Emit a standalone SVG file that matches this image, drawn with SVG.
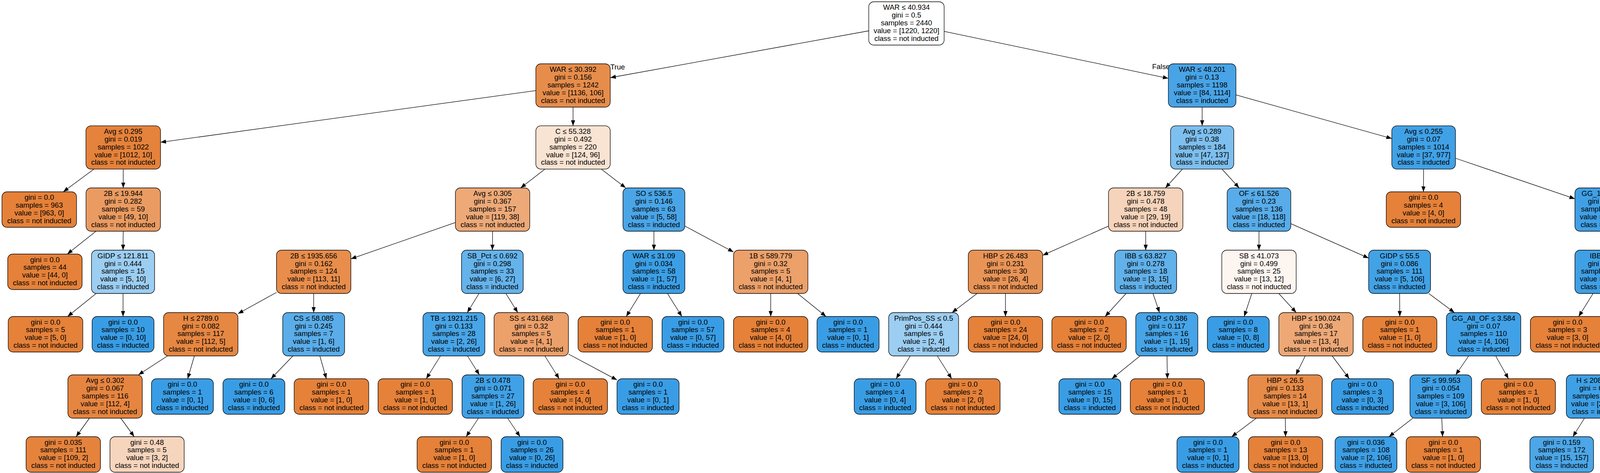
<svg xmlns="http://www.w3.org/2000/svg" width="4699" height="1212" viewBox="0 0 4699 1212">
<defs>
<style>
.node rect{stroke:#000;stroke-width:1.3}
.o rect{fill:#e58139}
.b rect{fill:#399de5}
text{font-family:"Liberation Sans",Arial,Helvetica,sans-serif;font-size:18.5px;fill:#000}
.node text{text-anchor:middle}
#edges line{stroke:#000;stroke-width:1.3;fill:none;marker-end:url(#arr)}
</style>
<marker id="arr" markerUnits="userSpaceOnUse" viewBox="0 0 14 10.6" refX="14" refY="5.3" markerWidth="14" markerHeight="10.6" orient="auto"><path d="M0,0L14,5.3L0,10.6z" fill="#000"/></marker>
</defs>
<rect width="4699" height="1212" fill="#fff"/>
<g id="edges">
<line x1="2224" y1="79" x2="1562.5" y2="199"/>
<line x1="2417" y1="80.3" x2="2991" y2="200.8"/>
<line x1="1371.8" y1="232.1" x2="411" y2="364.6"/>
<line x1="1467" y1="274.5" x2="1467" y2="322.3"/>
<line x1="240.6" y1="433.3" x2="162" y2="491.5"/>
<line x1="315.5" y1="433.3" x2="315.5" y2="481.5"/>
<line x1="245.7" y1="592.5" x2="172.2" y2="651"/>
<line x1="315.5" y1="592.5" x2="315" y2="641"/>
<line x1="246.1" y1="752" x2="173" y2="811"/>
<line x1="315" y1="752" x2="315" y2="811"/>
<line x1="1395.2" y1="433.3" x2="1332.8" y2="481.5"/>
<line x1="1539.2" y1="433.3" x2="1601.8" y2="481.5"/>
<line x1="1165.8" y1="570.2" x2="898.3" y2="663.3"/>
<line x1="1261" y1="592.5" x2="1260.5" y2="641"/>
<line x1="707.8" y1="749.2" x2="609.3" y2="803.8"/>
<line x1="803" y1="752" x2="803" y2="801"/>
<line x1="428.8" y1="912" x2="354.3" y2="960.5"/>
<line x1="497.6" y1="912" x2="480.4" y2="970.5"/>
<line x1="229" y1="1071.5" x2="194.8" y2="1119"/>
<line x1="309.2" y1="1071.5" x2="343.6" y2="1119"/>
<line x1="749.8" y1="912" x2="693.7" y2="970.5"/>
<line x1="818.8" y1="912" x2="835.5" y2="970.5"/>
<line x1="1226.3" y1="752" x2="1196.2" y2="801"/>
<line x1="1295" y1="752" x2="1325.5" y2="801"/>
<line x1="1127.6" y1="912" x2="1091.2" y2="970.5"/>
<line x1="1196.8" y1="912" x2="1227.2" y2="960.5"/>
<line x1="1225" y1="1071.5" x2="1193.3" y2="1119"/>
<line x1="1299.4" y1="1071.5" x2="1331.4" y2="1119"/>
<line x1="1394.8" y1="912" x2="1431.5" y2="970.5"/>
<line x1="1455.3" y1="907.3" x2="1579.5" y2="973.6"/>
<line x1="1674" y1="592.5" x2="1674" y2="641"/>
<line x1="1753.3" y1="579.3" x2="1877.8" y2="645.7"/>
<line x1="1639.7" y1="752" x2="1603.2" y2="811"/>
<line x1="1708.7" y1="752" x2="1745.6" y2="811"/>
<line x1="1973" y1="752" x2="1973" y2="811"/>
<line x1="2041.7" y1="752" x2="2114.7" y2="811"/>
<line x1="3077.5" y1="274.5" x2="3077.5" y2="322.3"/>
<line x1="3164" y1="243.2" x2="3563" y2="355"/>
<line x1="3027.1" y1="433.3" x2="2983.4" y2="481.5"/>
<line x1="3128.2" y1="433.3" x2="3172.3" y2="481.5"/>
<line x1="2837.8" y1="579.3" x2="2669.3" y2="654.2"/>
<line x1="2933" y1="592.5" x2="2933" y2="641"/>
<line x1="2501.3" y1="752" x2="2437.2" y2="801"/>
<line x1="2574" y1="752" x2="2574" y2="811"/>
<line x1="2330.2" y1="912" x2="2294.1" y2="970.5"/>
<line x1="2399.5" y1="912" x2="2436.3" y2="970.5"/>
<line x1="2882.7" y1="752" x2="2829.2" y2="811"/>
<line x1="2951.7" y1="752" x2="2968.3" y2="801"/>
<line x1="2918.5" y1="912" x2="2846.2" y2="970.5"/>
<line x1="2987.5" y1="912" x2="2988.5" y2="970.5"/>
<line x1="3223" y1="592.5" x2="3223" y2="641"/>
<line x1="3304.5" y1="573.1" x2="3503.8" y2="661.4"/>
<line x1="3204.6" y1="752" x2="3185.1" y2="811"/>
<line x1="3273.7" y1="752" x2="3318.4" y2="801"/>
<line x1="3341.5" y1="912" x2="3317.5" y2="960.5"/>
<line x1="3410.4" y1="912" x2="3454.1" y2="970.5"/>
<line x1="3216.2" y1="1071.5" x2="3153" y2="1119"/>
<line x1="3290.4" y1="1071.5" x2="3291" y2="1119"/>
<line x1="3583" y1="752" x2="3583.5" y2="811"/>
<line x1="3657.6" y1="752" x2="3723.4" y2="801"/>
<line x1="3759.9" y1="912" x2="3726.6" y2="960.5"/>
<line x1="3829" y1="912" x2="3861.6" y2="970.5"/>
<line x1="3616.9" y1="1071.5" x2="3555.7" y2="1119"/>
<line x1="3690.9" y1="1071.5" x2="3693" y2="1119"/>
<line x1="3644.5" y1="433.3" x2="3644" y2="491.5"/>
<line x1="3726" y1="405.5" x2="4031.8" y2="509.4"/>
<line x1="4113" y1="592.5" x2="4113" y2="641"/>
<line x1="4194.3" y1="579.9" x2="4319.8" y2="646.2"/>
<line x1="4078.3" y1="752" x2="4041.4" y2="811"/>
<line x1="4148" y1="752" x2="4179" y2="801"/>
<line x1="4171.2" y1="912" x2="4133.8" y2="960.5"/>
<line x1="4241.5" y1="912" x2="4270.5" y2="970.5"/>
<line x1="4056.3" y1="1071.5" x2="4026.5" y2="1119"/>
<line x1="4126.1" y1="1071.5" x2="4156.2" y2="1119"/>
<line x1="4415" y1="752" x2="4415" y2="811"/>
<line x1="4484" y1="752" x2="4557.4" y2="811"/>
<text x="1562.5" y="177.5">True</text>
<text x="2949.5" y="176.5">False</text>
</g>
<g id="n0" class="node"><rect x="2224" y="4.5" width="193" height="111" rx="13" fill="#ffffff"/><text x="2320.5" y="25.2"><tspan>WAR ≤ 40.934</tspan><tspan x="2320.5" dy="19.85">gini = 0.5</tspan><tspan x="2320.5" dy="19.85">samples = 2440</tspan><tspan x="2320.5" dy="19.85">value = [1220, 1220]</tspan><tspan x="2320.5" dy="19.85">class = not inducted</tspan></text></g>
<g id="n1" class="node"><rect x="1371.75" y="163.5" width="190.5" height="111" rx="13" fill="#e78d4b"/><text x="1467" y="184.2"><tspan>WAR ≤ 30.392</tspan><tspan x="1467" dy="19.85">gini = 0.156</tspan><tspan x="1467" dy="19.85">samples = 1242</tspan><tspan x="1467" dy="19.85">value = [1136, 106]</tspan><tspan x="1467" dy="19.85">class = not inducted</tspan></text></g>
<g id="n2" class="node"><rect x="220" y="322.3" width="191" height="111" rx="13" fill="#e5823b"/><text x="315.5" y="343"><tspan>Avg ≤ 0.295</tspan><tspan x="315.5" dy="19.85">gini = 0.019</tspan><tspan x="315.5" dy="19.85">samples = 1022</tspan><tspan x="315.5" dy="19.85">value = [1012, 10]</tspan><tspan x="315.5" dy="19.85">class = not inducted</tspan></text></g>
<g id="n3" class="node o"><rect x="5" y="491.5" width="191" height="91" rx="13"/><text x="100.5" y="512.1"><tspan>gini = 0.0</tspan><tspan x="100.5" dy="19.85">samples = 963</tspan><tspan x="100.5" dy="19.85">value = [963, 0]</tspan><tspan x="100.5" dy="19.85">class = not inducted</tspan></text></g>
<g id="n4" class="node"><rect x="220.25" y="481.5" width="190.5" height="111" rx="13" fill="#ea9b61"/><text x="315.5" y="502.2"><tspan>2B ≤ 19.944</tspan><tspan x="315.5" dy="19.85">gini = 0.282</tspan><tspan x="315.5" dy="19.85">samples = 59</tspan><tspan x="315.5" dy="19.85">value = [49, 10]</tspan><tspan x="315.5" dy="19.85">class = not inducted</tspan></text></g>
<g id="n5" class="node o"><rect x="19.75" y="651" width="190.5" height="91" rx="13"/><text x="115" y="671.6"><tspan>gini = 0.0</tspan><tspan x="115" dy="19.85">samples = 44</tspan><tspan x="115" dy="19.85">value = [44, 0]</tspan><tspan x="115" dy="19.85">class = not inducted</tspan></text></g>
<g id="n6" class="node"><rect x="234.25" y="641" width="161.5" height="111" rx="13" fill="#9ccef2"/><text x="315" y="661.7"><tspan>GIDP ≤ 121.811</tspan><tspan x="315" dy="19.85">gini = 0.444</tspan><tspan x="315" dy="19.85">samples = 15</tspan><tspan x="315" dy="19.85">value = [5, 10]</tspan><tspan x="315" dy="19.85">class = inducted</tspan></text></g>
<g id="n7" class="node o"><rect x="21" y="811" width="191" height="91" rx="13"/><text x="116.5" y="831.6"><tspan>gini = 0.0</tspan><tspan x="116.5" dy="19.85">samples = 5</tspan><tspan x="116.5" dy="19.85">value = [5, 0]</tspan><tspan x="116.5" dy="19.85">class = not inducted</tspan></text></g>
<g id="n8" class="node b"><rect x="235.75" y="811" width="158.5" height="91" rx="13"/><text x="315" y="831.6"><tspan>gini = 0.0</tspan><tspan x="315" dy="19.85">samples = 10</tspan><tspan x="315" dy="19.85">value = [0, 10]</tspan><tspan x="315" dy="19.85">class = inducted</tspan></text></g>
<g id="n9" class="node"><rect x="1371.75" y="322.3" width="190.5" height="111" rx="13" fill="#f9e3d2"/><text x="1467" y="343"><tspan>C ≤ 55.328</tspan><tspan x="1467" dy="19.85">gini = 0.492</tspan><tspan x="1467" dy="19.85">samples = 220</tspan><tspan x="1467" dy="19.85">value = [124, 96]</tspan><tspan x="1467" dy="19.85">class = not inducted</tspan></text></g>
<g id="n10" class="node"><rect x="1165.75" y="481.5" width="190.5" height="111" rx="13" fill="#eda978"/><text x="1261" y="502.2"><tspan>Avg ≤ 0.305</tspan><tspan x="1261" dy="19.85">gini = 0.367</tspan><tspan x="1261" dy="19.85">samples = 157</tspan><tspan x="1261" dy="19.85">value = [119, 38]</tspan><tspan x="1261" dy="19.85">class = not inducted</tspan></text></g>
<g id="n11" class="node"><rect x="707.75" y="641" width="190.5" height="111" rx="13" fill="#e88d4c"/><text x="803" y="661.7"><tspan>2B ≤ 1935.656</tspan><tspan x="803" dy="19.85">gini = 0.162</tspan><tspan x="803" dy="19.85">samples = 124</tspan><tspan x="803" dy="19.85">value = [113, 11]</tspan><tspan x="803" dy="19.85">class = not inducted</tspan></text></g>
<g id="n12" class="node"><rect x="418.75" y="801" width="190.5" height="111" rx="13" fill="#e68742"/><text x="514" y="821.7"><tspan>H ≤ 2789.0</tspan><tspan x="514" dy="19.85">gini = 0.082</tspan><tspan x="514" dy="19.85">samples = 117</tspan><tspan x="514" dy="19.85">value = [112, 5]</tspan><tspan x="514" dy="19.85">class = not inducted</tspan></text></g>
<g id="n13" class="node"><rect x="173.75" y="960.5" width="190.5" height="111" rx="13" fill="#e68540"/><text x="269" y="981.2"><tspan>Avg ≤ 0.302</tspan><tspan x="269" dy="19.85">gini = 0.067</tspan><tspan x="269" dy="19.85">samples = 116</tspan><tspan x="269" dy="19.85">value = [112, 4]</tspan><tspan x="269" dy="19.85">class = not inducted</tspan></text></g>
<g id="n14" class="node"><rect x="66.75" y="1119" width="190.5" height="91" rx="13" fill="#e5833d"/><text x="162" y="1139.6"><tspan>gini = 0.035</tspan><tspan x="162" dy="19.85">samples = 111</tspan><tspan x="162" dy="19.85">value = [109, 2]</tspan><tspan x="162" dy="19.85">class = not inducted</tspan></text></g>
<g id="n15" class="node"><rect x="281.5" y="1119" width="190" height="91" rx="13" fill="#f6d5bd"/><text x="376.5" y="1139.6"><tspan>gini = 0.48</tspan><tspan x="376.5" dy="19.85">samples = 5</tspan><tspan x="376.5" dy="19.85">value = [3, 2]</tspan><tspan x="376.5" dy="19.85">class = not inducted</tspan></text></g>
<g id="n16" class="node b"><rect x="387.75" y="970.5" width="158.5" height="91" rx="13"/><text x="467" y="991.1"><tspan>gini = 0.0</tspan><tspan x="467" dy="19.85">samples = 1</tspan><tspan x="467" dy="19.85">value = [0, 1]</tspan><tspan x="467" dy="19.85">class = inducted</tspan></text></g>
<g id="n17" class="node"><rect x="723.75" y="801" width="158.5" height="111" rx="13" fill="#5aade9"/><text x="803" y="821.7"><tspan>CS ≤ 58.085</tspan><tspan x="803" dy="19.85">gini = 0.245</tspan><tspan x="803" dy="19.85">samples = 7</tspan><tspan x="803" dy="19.85">value = [1, 6]</tspan><tspan x="803" dy="19.85">class = inducted</tspan></text></g>
<g id="n18" class="node b"><rect x="570.75" y="970.5" width="158.5" height="91" rx="13"/><text x="650" y="991.1"><tspan>gini = 0.0</tspan><tspan x="650" dy="19.85">samples = 6</tspan><tspan x="650" dy="19.85">value = [0, 6]</tspan><tspan x="650" dy="19.85">class = inducted</tspan></text></g>
<g id="n19" class="node o"><rect x="753" y="970.5" width="191" height="91" rx="13"/><text x="848.5" y="991.1"><tspan>gini = 0.0</tspan><tspan x="848.5" dy="19.85">samples = 1</tspan><tspan x="848.5" dy="19.85">value = [1, 0]</tspan><tspan x="848.5" dy="19.85">class = not inducted</tspan></text></g>
<g id="n20" class="node"><rect x="1181.5" y="641" width="158" height="111" rx="13" fill="#65b3eb"/><text x="1260.5" y="661.7"><tspan>SB_Pct ≤ 0.692</tspan><tspan x="1260.5" dy="19.85">gini = 0.298</tspan><tspan x="1260.5" dy="19.85">samples = 33</tspan><tspan x="1260.5" dy="19.85">value = [6, 27]</tspan><tspan x="1260.5" dy="19.85">class = inducted</tspan></text></g>
<g id="n21" class="node"><rect x="1082.75" y="801" width="158.5" height="111" rx="13" fill="#48a5e7"/><text x="1162" y="821.7"><tspan>TB ≤ 1921.215</tspan><tspan x="1162" dy="19.85">gini = 0.133</tspan><tspan x="1162" dy="19.85">samples = 28</tspan><tspan x="1162" dy="19.85">value = [2, 26]</tspan><tspan x="1162" dy="19.85">class = inducted</tspan></text></g>
<g id="n22" class="node o"><rect x="967.75" y="970.5" width="190.5" height="91" rx="13"/><text x="1063" y="991.1"><tspan>gini = 0.0</tspan><tspan x="1063" dy="19.85">samples = 1</tspan><tspan x="1063" dy="19.85">value = [1, 0]</tspan><tspan x="1063" dy="19.85">class = not inducted</tspan></text></g>
<g id="n23" class="node"><rect x="1182.75" y="960.5" width="158.5" height="111" rx="13" fill="#41a1e6"/><text x="1262" y="981.2"><tspan>2B ≤ 0.478</tspan><tspan x="1262" dy="19.85">gini = 0.071</tspan><tspan x="1262" dy="19.85">samples = 27</tspan><tspan x="1262" dy="19.85">value = [1, 26]</tspan><tspan x="1262" dy="19.85">class = inducted</tspan></text></g>
<g id="n24" class="node o"><rect x="1067.75" y="1119" width="190.5" height="91" rx="13"/><text x="1163" y="1139.6"><tspan>gini = 0.0</tspan><tspan x="1163" dy="19.85">samples = 1</tspan><tspan x="1163" dy="19.85">value = [1, 0]</tspan><tspan x="1163" dy="19.85">class = not inducted</tspan></text></g>
<g id="n25" class="node b"><rect x="1282.75" y="1119" width="158.5" height="91" rx="13"/><text x="1362" y="1139.6"><tspan>gini = 0.0</tspan><tspan x="1362" dy="19.85">samples = 26</tspan><tspan x="1362" dy="19.85">value = [0, 26]</tspan><tspan x="1362" dy="19.85">class = inducted</tspan></text></g>
<g id="n26" class="node"><rect x="1264.75" y="801" width="190.5" height="111" rx="13" fill="#eca06a"/><text x="1360" y="821.7"><tspan>SS ≤ 431.668</tspan><tspan x="1360" dy="19.85">gini = 0.32</tspan><tspan x="1360" dy="19.85">samples = 5</tspan><tspan x="1360" dy="19.85">value = [4, 1]</tspan><tspan x="1360" dy="19.85">class = not inducted</tspan></text></g>
<g id="n27" class="node o"><rect x="1364.75" y="970.5" width="190.5" height="91" rx="13"/><text x="1460" y="991.1"><tspan>gini = 0.0</tspan><tspan x="1460" dy="19.85">samples = 4</tspan><tspan x="1460" dy="19.85">value = [4, 0]</tspan><tspan x="1460" dy="19.85">class = not inducted</tspan></text></g>
<g id="n28" class="node b"><rect x="1579.5" y="970.5" width="159" height="91" rx="13"/><text x="1659" y="991.1"><tspan>gini = 0.0</tspan><tspan x="1659" dy="19.85">samples = 1</tspan><tspan x="1659" dy="19.85">value = [0, 1]</tspan><tspan x="1659" dy="19.85">class = inducted</tspan></text></g>
<g id="n29" class="node"><rect x="1594.75" y="481.5" width="158.5" height="111" rx="13" fill="#4aa5e7"/><text x="1674" y="502.2"><tspan>SO ≤ 536.5</tspan><tspan x="1674" dy="19.85">gini = 0.146</tspan><tspan x="1674" dy="19.85">samples = 63</tspan><tspan x="1674" dy="19.85">value = [5, 58]</tspan><tspan x="1674" dy="19.85">class = inducted</tspan></text></g>
<g id="n30" class="node"><rect x="1594.75" y="641" width="158.5" height="111" rx="13" fill="#3c9fe5"/><text x="1674" y="661.7"><tspan>WAR ≤ 31.09</tspan><tspan x="1674" dy="19.85">gini = 0.034</tspan><tspan x="1674" dy="19.85">samples = 58</tspan><tspan x="1674" dy="19.85">value = [1, 57]</tspan><tspan x="1674" dy="19.85">class = inducted</tspan></text></g>
<g id="n31" class="node o"><rect x="1479.75" y="811" width="190.5" height="91" rx="13"/><text x="1575" y="831.6"><tspan>gini = 0.0</tspan><tspan x="1575" dy="19.85">samples = 1</tspan><tspan x="1575" dy="19.85">value = [1, 0]</tspan><tspan x="1575" dy="19.85">class = not inducted</tspan></text></g>
<g id="n32" class="node b"><rect x="1694.75" y="811" width="158.5" height="91" rx="13"/><text x="1774" y="831.6"><tspan>gini = 0.0</tspan><tspan x="1774" dy="19.85">samples = 57</tspan><tspan x="1774" dy="19.85">value = [0, 57]</tspan><tspan x="1774" dy="19.85">class = inducted</tspan></text></g>
<g id="n33" class="node"><rect x="1877.75" y="641" width="190.5" height="111" rx="13" fill="#eca06a"/><text x="1973" y="661.7"><tspan>1B ≤ 589.779</tspan><tspan x="1973" dy="19.85">gini = 0.32</tspan><tspan x="1973" dy="19.85">samples = 5</tspan><tspan x="1973" dy="19.85">value = [4, 1]</tspan><tspan x="1973" dy="19.85">class = not inducted</tspan></text></g>
<g id="n34" class="node o"><rect x="1877.75" y="811" width="190.5" height="91" rx="13"/><text x="1973" y="831.6"><tspan>gini = 0.0</tspan><tspan x="1973" dy="19.85">samples = 4</tspan><tspan x="1973" dy="19.85">value = [4, 0]</tspan><tspan x="1973" dy="19.85">class = not inducted</tspan></text></g>
<g id="n35" class="node b"><rect x="2091.5" y="811" width="159" height="91" rx="13"/><text x="2171" y="831.6"><tspan>gini = 0.0</tspan><tspan x="2171" dy="19.85">samples = 1</tspan><tspan x="2171" dy="19.85">value = [0, 1]</tspan><tspan x="2171" dy="19.85">class = inducted</tspan></text></g>
<g id="n36" class="node"><rect x="2991" y="163.5" width="173" height="111" rx="13" fill="#48a4e7"/><text x="3077.5" y="184.2"><tspan>WAR ≤ 48.201</tspan><tspan x="3077.5" dy="19.85">gini = 0.13</tspan><tspan x="3077.5" dy="19.85">samples = 1198</tspan><tspan x="3077.5" dy="19.85">value = [84, 1114]</tspan><tspan x="3077.5" dy="19.85">class = inducted</tspan></text></g>
<g id="n37" class="node"><rect x="2996.5" y="322.3" width="162" height="111" rx="13" fill="#7dbfee"/><text x="3077.5" y="343"><tspan>Avg ≤ 0.289</tspan><tspan x="3077.5" dy="19.85">gini = 0.38</tspan><tspan x="3077.5" dy="19.85">samples = 184</tspan><tspan x="3077.5" dy="19.85">value = [47, 137]</tspan><tspan x="3077.5" dy="19.85">class = inducted</tspan></text></g>
<g id="n38" class="node"><rect x="2837.75" y="481.5" width="190.5" height="111" rx="13" fill="#f6d4bb"/><text x="2933" y="502.2"><tspan>2B ≤ 18.759</tspan><tspan x="2933" dy="19.85">gini = 0.478</tspan><tspan x="2933" dy="19.85">samples = 48</tspan><tspan x="2933" dy="19.85">value = [29, 19]</tspan><tspan x="2933" dy="19.85">class = not inducted</tspan></text></g>
<g id="n39" class="node"><rect x="2478.75" y="641" width="190.5" height="111" rx="13" fill="#e99457"/><text x="2574" y="661.7"><tspan>HBP ≤ 26.483</tspan><tspan x="2574" dy="19.85">gini = 0.231</tspan><tspan x="2574" dy="19.85">samples = 30</tspan><tspan x="2574" dy="19.85">value = [26, 4]</tspan><tspan x="2574" dy="19.85">class = not inducted</tspan></text></g>
<g id="n40" class="node"><rect x="2275" y="801" width="179" height="111" rx="13" fill="#9ccef2"/><text x="2364.5" y="821.7"><tspan>PrimPos_SS ≤ 0.5</tspan><tspan x="2364.5" dy="19.85">gini = 0.444</tspan><tspan x="2364.5" dy="19.85">samples = 6</tspan><tspan x="2364.5" dy="19.85">value = [2, 4]</tspan><tspan x="2364.5" dy="19.85">class = inducted</tspan></text></g>
<g id="n41" class="node b"><rect x="2186.75" y="970.5" width="158.5" height="91" rx="13"/><text x="2266" y="991.1"><tspan>gini = 0.0</tspan><tspan x="2266" dy="19.85">samples = 4</tspan><tspan x="2266" dy="19.85">value = [0, 4]</tspan><tspan x="2266" dy="19.85">class = inducted</tspan></text></g>
<g id="n42" class="node o"><rect x="2369.75" y="970.5" width="190.5" height="91" rx="13"/><text x="2465" y="991.1"><tspan>gini = 0.0</tspan><tspan x="2465" dy="19.85">samples = 2</tspan><tspan x="2465" dy="19.85">value = [2, 0]</tspan><tspan x="2465" dy="19.85">class = not inducted</tspan></text></g>
<g id="n43" class="node o"><rect x="2478.75" y="811" width="190.5" height="91" rx="13"/><text x="2574" y="831.6"><tspan>gini = 0.0</tspan><tspan x="2574" dy="19.85">samples = 24</tspan><tspan x="2574" dy="19.85">value = [24, 0]</tspan><tspan x="2574" dy="19.85">class = not inducted</tspan></text></g>
<g id="n44" class="node"><rect x="2853.75" y="641" width="158.5" height="111" rx="13" fill="#61b1ea"/><text x="2933" y="661.7"><tspan>IBB ≤ 63.827</tspan><tspan x="2933" dy="19.85">gini = 0.278</tspan><tspan x="2933" dy="19.85">samples = 18</tspan><tspan x="2933" dy="19.85">value = [3, 15]</tspan><tspan x="2933" dy="19.85">class = inducted</tspan></text></g>
<g id="n45" class="node o"><rect x="2692.75" y="811" width="190.5" height="91" rx="13"/><text x="2788" y="831.6"><tspan>gini = 0.0</tspan><tspan x="2788" dy="19.85">samples = 2</tspan><tspan x="2788" dy="19.85">value = [2, 0]</tspan><tspan x="2788" dy="19.85">class = not inducted</tspan></text></g>
<g id="n46" class="node"><rect x="2907.5" y="801" width="159" height="111" rx="13" fill="#46a4e7"/><text x="2987" y="821.7"><tspan>OBP ≤ 0.386</tspan><tspan x="2987" dy="19.85">gini = 0.117</tspan><tspan x="2987" dy="19.85">samples = 16</tspan><tspan x="2987" dy="19.85">value = [1, 15]</tspan><tspan x="2987" dy="19.85">class = inducted</tspan></text></g>
<g id="n47" class="node b"><rect x="2710.75" y="970.5" width="158.5" height="91" rx="13"/><text x="2790" y="991.1"><tspan>gini = 0.0</tspan><tspan x="2790" dy="19.85">samples = 15</tspan><tspan x="2790" dy="19.85">value = [0, 15]</tspan><tspan x="2790" dy="19.85">class = inducted</tspan></text></g>
<g id="n48" class="node o"><rect x="2893.5" y="970.5" width="190" height="91" rx="13"/><text x="2988.5" y="991.1"><tspan>gini = 0.0</tspan><tspan x="2988.5" dy="19.85">samples = 1</tspan><tspan x="2988.5" dy="19.85">value = [1, 0]</tspan><tspan x="2988.5" dy="19.85">class = not inducted</tspan></text></g>
<g id="n49" class="node"><rect x="3141.5" y="481.5" width="163" height="111" rx="13" fill="#57ace9"/><text x="3223" y="502.2"><tspan>OF ≤ 61.526</tspan><tspan x="3223" dy="19.85">gini = 0.23</tspan><tspan x="3223" dy="19.85">samples = 136</tspan><tspan x="3223" dy="19.85">value = [18, 118]</tspan><tspan x="3223" dy="19.85">class = inducted</tspan></text></g>
<g id="n50" class="node"><rect x="3127.75" y="641" width="190.5" height="111" rx="13" fill="#fdf5f0"/><text x="3223" y="661.7"><tspan>SB ≤ 41.073</tspan><tspan x="3223" dy="19.85">gini = 0.499</tspan><tspan x="3223" dy="19.85">samples = 25</tspan><tspan x="3223" dy="19.85">value = [13, 12]</tspan><tspan x="3223" dy="19.85">class = not inducted</tspan></text></g>
<g id="n51" class="node b"><rect x="3090.75" y="811" width="158.5" height="91" rx="13"/><text x="3170" y="831.6"><tspan>gini = 0.0</tspan><tspan x="3170" dy="19.85">samples = 8</tspan><tspan x="3170" dy="19.85">value = [0, 8]</tspan><tspan x="3170" dy="19.85">class = inducted</tspan></text></g>
<g id="n52" class="node"><rect x="3273.75" y="801" width="190.5" height="111" rx="13" fill="#eda876"/><text x="3369" y="821.7"><tspan>HBP ≤ 190.024</tspan><tspan x="3369" dy="19.85">gini = 0.36</tspan><tspan x="3369" dy="19.85">samples = 17</tspan><tspan x="3369" dy="19.85">value = [13, 4]</tspan><tspan x="3369" dy="19.85">class = not inducted</tspan></text></g>
<g id="n53" class="node"><rect x="3194.75" y="960.5" width="190.5" height="111" rx="13" fill="#e78b48"/><text x="3290" y="981.2"><tspan>HBP ≤ 26.5</tspan><tspan x="3290" dy="19.85">gini = 0.133</tspan><tspan x="3290" dy="19.85">samples = 14</tspan><tspan x="3290" dy="19.85">value = [13, 1]</tspan><tspan x="3290" dy="19.85">class = not inducted</tspan></text></g>
<g id="n54" class="node b"><rect x="3013" y="1119" width="159" height="91" rx="13"/><text x="3092.5" y="1139.6"><tspan>gini = 0.0</tspan><tspan x="3092.5" dy="19.85">samples = 1</tspan><tspan x="3092.5" dy="19.85">value = [0, 1]</tspan><tspan x="3092.5" dy="19.85">class = inducted</tspan></text></g>
<g id="n55" class="node o"><rect x="3196" y="1119" width="190" height="91" rx="13"/><text x="3291" y="1139.6"><tspan>gini = 0.0</tspan><tspan x="3291" dy="19.85">samples = 13</tspan><tspan x="3291" dy="19.85">value = [13, 0]</tspan><tspan x="3291" dy="19.85">class = not inducted</tspan></text></g>
<g id="n56" class="node b"><rect x="3408.75" y="970.5" width="158.5" height="91" rx="13"/><text x="3488" y="991.1"><tspan>gini = 0.0</tspan><tspan x="3488" dy="19.85">samples = 3</tspan><tspan x="3488" dy="19.85">value = [0, 3]</tspan><tspan x="3488" dy="19.85">class = inducted</tspan></text></g>
<g id="n57" class="node"><rect x="3503.75" y="641" width="158.5" height="111" rx="13" fill="#42a2e6"/><text x="3583" y="661.7"><tspan>GIDP ≤ 55.5</tspan><tspan x="3583" dy="19.85">gini = 0.086</tspan><tspan x="3583" dy="19.85">samples = 111</tspan><tspan x="3583" dy="19.85">value = [5, 106]</tspan><tspan x="3583" dy="19.85">class = inducted</tspan></text></g>
<g id="n58" class="node o"><rect x="3488.5" y="811" width="190" height="91" rx="13"/><text x="3583.5" y="831.6"><tspan>gini = 0.0</tspan><tspan x="3583.5" dy="19.85">samples = 1</tspan><tspan x="3583.5" dy="19.85">value = [1, 0]</tspan><tspan x="3583.5" dy="19.85">class = not inducted</tspan></text></g>
<g id="n59" class="node"><rect x="3702.75" y="801" width="190.5" height="111" rx="13" fill="#40a1e6"/><text x="3798" y="821.7"><tspan>GG_All_OF ≤ 3.584</tspan><tspan x="3798" dy="19.85">gini = 0.07</tspan><tspan x="3798" dy="19.85">samples = 110</tspan><tspan x="3798" dy="19.85">value = [4, 106]</tspan><tspan x="3798" dy="19.85">class = inducted</tspan></text></g>
<g id="n60" class="node"><rect x="3609.5" y="960.5" width="158" height="111" rx="13" fill="#3fa0e6"/><text x="3688.5" y="981.2"><tspan>SF ≤ 99.953</tspan><tspan x="3688.5" dy="19.85">gini = 0.054</tspan><tspan x="3688.5" dy="19.85">samples = 109</tspan><tspan x="3688.5" dy="19.85">value = [3, 106]</tspan><tspan x="3688.5" dy="19.85">class = inducted</tspan></text></g>
<g id="n61" class="node"><rect x="3417.75" y="1119" width="158.5" height="91" rx="13" fill="#3d9fe5"/><text x="3497" y="1139.6"><tspan>gini = 0.036</tspan><tspan x="3497" dy="19.85">samples = 108</tspan><tspan x="3497" dy="19.85">value = [2, 106]</tspan><tspan x="3497" dy="19.85">class = inducted</tspan></text></g>
<g id="n62" class="node o"><rect x="3599.75" y="1119" width="190.5" height="91" rx="13"/><text x="3695" y="1139.6"><tspan>gini = 0.0</tspan><tspan x="3695" dy="19.85">samples = 1</tspan><tspan x="3695" dy="19.85">value = [1, 0]</tspan><tspan x="3695" dy="19.85">class = not inducted</tspan></text></g>
<g id="n63" class="node o"><rect x="3792" y="970.5" width="190" height="91" rx="13"/><text x="3887" y="991.1"><tspan>gini = 0.0</tspan><tspan x="3887" dy="19.85">samples = 1</tspan><tspan x="3887" dy="19.85">value = [1, 0]</tspan><tspan x="3887" dy="19.85">class = not inducted</tspan></text></g>
<g id="n64" class="node"><rect x="3563" y="322.3" width="163" height="111" rx="13" fill="#40a1e6"/><text x="3644.5" y="343"><tspan>Avg ≤ 0.255</tspan><tspan x="3644.5" dy="19.85">gini = 0.07</tspan><tspan x="3644.5" dy="19.85">samples = 1014</tspan><tspan x="3644.5" dy="19.85">value = [37, 977]</tspan><tspan x="3644.5" dy="19.85">class = inducted</tspan></text></g>
<g id="n65" class="node o"><rect x="3548.75" y="491.5" width="190.5" height="91" rx="13"/><text x="3644" y="512.1"><tspan>gini = 0.0</tspan><tspan x="3644" dy="19.85">samples = 4</tspan><tspan x="3644" dy="19.85">value = [4, 0]</tspan><tspan x="3644" dy="19.85">class = not inducted</tspan></text></g>
<g id="n66" class="node"><rect x="4031.75" y="481.5" width="162.5" height="111" rx="13" fill="#40a0e6"/><text x="4113" y="502.2"><tspan>GG_1B ≤ 0.948</tspan><tspan x="4113" dy="19.85">gini = 0.063</tspan><tspan x="4113" dy="19.85">samples = 1010</tspan><tspan x="4113" dy="19.85">value = [33, 977]</tspan><tspan x="4113" dy="19.85">class = inducted</tspan></text></g>
<g id="n67" class="node"><rect x="4031.75" y="641" width="162.5" height="111" rx="13" fill="#3fa0e6"/><text x="4113" y="661.7"><tspan>IBB ≤ 38.0</tspan><tspan x="4113" dy="19.85">gini = 0.056</tspan><tspan x="4113" dy="19.85">samples = 1005</tspan><tspan x="4113" dy="19.85">value = [29, 976]</tspan><tspan x="4113" dy="19.85">class = inducted</tspan></text></g>
<g id="n68" class="node o"><rect x="3917.75" y="811" width="190.5" height="91" rx="13"/><text x="4013" y="831.6"><tspan>gini = 0.0</tspan><tspan x="4013" dy="19.85">samples = 3</tspan><tspan x="4013" dy="19.85">value = [3, 0]</tspan><tspan x="4013" dy="19.85">class = not inducted</tspan></text></g>
<g id="n69" class="node"><rect x="4132.75" y="801" width="162.5" height="111" rx="13" fill="#3ea0e6"/><text x="4214" y="821.7"><tspan>1B ≤ 2195.5</tspan><tspan x="4214" dy="19.85">gini = 0.051</tspan><tspan x="4214" dy="19.85">samples = 1002</tspan><tspan x="4214" dy="19.85">value = [26, 976]</tspan><tspan x="4214" dy="19.85">class = inducted</tspan></text></g>
<g id="n70" class="node"><rect x="4009.75" y="960.5" width="162.5" height="111" rx="13" fill="#3ea0e6"/><text x="4091" y="981.2"><tspan>H ≤ 2088.717</tspan><tspan x="4091" dy="19.85">gini = 0.049</tspan><tspan x="4091" dy="19.85">samples = 1001</tspan><tspan x="4091" dy="19.85">value = [25, 976]</tspan><tspan x="4091" dy="19.85">class = inducted</tspan></text></g>
<g id="n71" class="node"><rect x="3916.5" y="1119" width="163" height="91" rx="13" fill="#4ca6e7"/><text x="3998" y="1139.6"><tspan>gini = 0.159</tspan><tspan x="3998" dy="19.85">samples = 172</tspan><tspan x="3998" dy="19.85">value = [15, 157]</tspan><tspan x="3998" dy="19.85">class = inducted</tspan></text></g>
<g id="n72" class="node"><rect x="4103.75" y="1119" width="162.5" height="91" rx="13" fill="#3b9ee5"/><text x="4185" y="1139.6"><tspan>gini = 0.024</tspan><tspan x="4185" dy="19.85">samples = 829</tspan><tspan x="4185" dy="19.85">value = [10, 819]</tspan><tspan x="4185" dy="19.85">class = inducted</tspan></text></g>
<g id="n73" class="node o"><rect x="4197.75" y="970.5" width="190.5" height="91" rx="13"/><text x="4293" y="991.1"><tspan>gini = 0.0</tspan><tspan x="4293" dy="19.85">samples = 1</tspan><tspan x="4293" dy="19.85">value = [1, 0]</tspan><tspan x="4293" dy="19.85">class = not inducted</tspan></text></g>
<g id="n74" class="node"><rect x="4319.75" y="641" width="190.5" height="111" rx="13" fill="#eca06a"/><text x="4415" y="661.7"><tspan>HR ≤ 409.0</tspan><tspan x="4415" dy="19.85">gini = 0.32</tspan><tspan x="4415" dy="19.85">samples = 5</tspan><tspan x="4415" dy="19.85">value = [4, 1]</tspan><tspan x="4415" dy="19.85">class = not inducted</tspan></text></g>
<g id="n75" class="node o"><rect x="4319.75" y="811" width="190.5" height="91" rx="13"/><text x="4415" y="831.6"><tspan>gini = 0.0</tspan><tspan x="4415" dy="19.85">samples = 4</tspan><tspan x="4415" dy="19.85">value = [4, 0]</tspan><tspan x="4415" dy="19.85">class = not inducted</tspan></text></g>
<g id="n76" class="node b"><rect x="4534.5" y="811" width="159" height="91" rx="13"/><text x="4614" y="831.6"><tspan>gini = 0.0</tspan><tspan x="4614" dy="19.85">samples = 1</tspan><tspan x="4614" dy="19.85">value = [0, 1]</tspan><tspan x="4614" dy="19.85">class = inducted</tspan></text></g>
</svg>
